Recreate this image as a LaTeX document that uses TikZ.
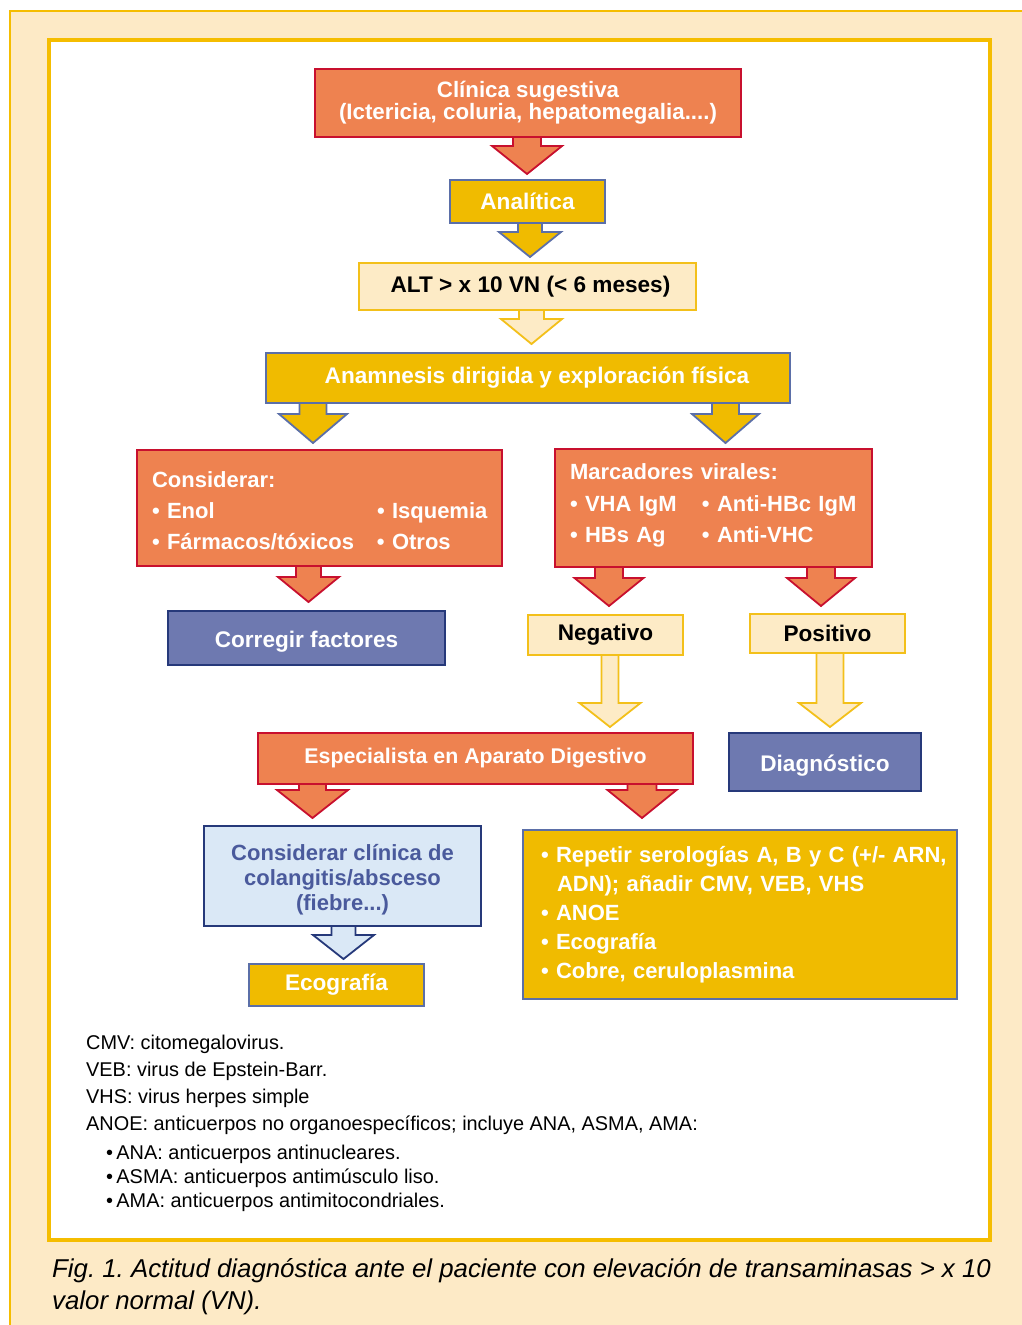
\documentclass[tikz,border=0pt]{standalone}
\usepackage{fontspec}
\setmainfont{Liberation Sans}
\usetikzlibrary{calc}
\pgfdeclarelayer{back}
\pgfdeclarelayer{bg}
\pgfsetlayers{back,bg,main}
\definecolor{corange}{HTML}{EE8250}
\definecolor{cred}{HTML}{C8102E}
\definecolor{cgold}{HTML}{F0BB00}
\definecolor{cblueb}{HTML}{5B6FA8}
\definecolor{ccream}{HTML}{FDEBC6}
\definecolor{cgoldb}{HTML}{F3C01A}
\definecolor{cslate}{HTML}{6E79B0}
\definecolor{cnavy}{HTML}{26397A}
\definecolor{clblue}{HTML}{DAE8F6}
\definecolor{ctextblue}{HTML}{4A5A9C}
\definecolor{cbeige}{HTML}{FDEAC6}
\definecolor{cframe}{HTML}{F5BD00}
\newcommand\blockarrow[7]{%
  \begin{pgfonlayer}{bg}
  \path[#7] let \p1=(#1.south) in
    ({#2pt-#3pt},\y1) -- ({#2pt-#3pt},{-#5pt}) -- ({#2pt-#4pt},{-#5pt}) --
    ({#2pt},{-#6pt}) -- ({#2pt+#4pt},{-#5pt}) -- ({#2pt+#3pt},{-#5pt}) -- ({#2pt+#3pt},\y1);
  \end{pgfonlayer}}
\tikzset{
  box/.style={inner sep=0pt, line width=1.8pt, align=center,
    font=\bfseries\fontsize{22.6}{26}\selectfont},
  orangebox/.style={box, fill=corange, draw=cred, text=white},
  goldbox/.style={box, fill=cgold, draw=cblueb, text=white},
  creambox/.style={box, fill=ccream, draw=cgoldb, text=black},
  slatebox/.style={box, fill=cslate, draw=cnavy, text=white},
  lbluebox/.style={box, fill=clblue, draw=cnavy, text=ctextblue},
  orangearrow/.style={fill=corange, draw=cred, line width=1.8pt, line join=miter},
  goldarrow/.style={fill=cgold, draw=cblueb, line width=1.8pt, line join=miter},
  creamarrow/.style={fill=ccream, draw=cgoldb, line width=1.8pt, line join=miter},
  lbluearrow/.style={fill=clblue, draw=cnavy, line width=1.8pt, line join=miter},
  legend/.style={inner sep=0pt, anchor=north west, align=left, text=black,
    font=\fontsize{19.9}{27}\selectfont},
  caption/.style={inner sep=0pt, anchor=north west, align=left, text=black,
    font=\itshape\fontsize{25.8}{32}\selectfont}
}
\begin{document}
\frenchspacing
\begin{tikzpicture}[x=1pt,y=-1pt]
\useasboundingbox (0,0) rectangle (1021,1325);
\begin{pgfonlayer}{back}
  \fill[cbeige] (10,11) rectangle (1030,1340);
  \draw[cframe, line width=2.5pt] (10,1340) -- (10,11) -- (1030,11);
  \draw[cframe, line width=4pt, fill=white] (49,40) rectangle (990,1239.5);
\end{pgfonlayer}

% nodes
\node[orangebox, minimum width=426pt, minimum height=68pt, font=\bfseries\fontsize{22.3}{22}\selectfont]
  (clin) at (528,103) {Clínica sugestiva\\(Ictericia, coluria, hepatomegalia....)};
\node[goldbox, minimum width=155pt, minimum height=43pt] (anal) at (527.5,201.5) {Analítica};
\node[creambox, minimum width=337pt, minimum height=47pt] (alt) at (527.5,286.5) {\hspace*{6pt}ALT > x 10 VN (< 6 meses)};
\node[goldbox, minimum width=524pt, minimum height=50pt] (anam) at (528,378) {\hspace*{18pt}Anamnesis dirigida y exploración física};
\node[orangebox, minimum height=116pt, text width=335pt, inner xsep=15pt, align=left,
  font=\bfseries\fontsize{22}{31}\selectfont] (cons) at (319.5,508)
  {\rule{0pt}{22pt}Considerar:\\\mbox{\makebox[225pt][l]{• Enol}• Isquemia}\\\mbox{\makebox[225pt][l]{• Fármacos/tóxicos}• Otros}};
\node[slatebox, minimum width=277pt, minimum height=54pt] (corr) at (306.5,638) {\raisebox{0pt}[18pt][0pt]{Corregir factores}};
\node[orangebox, minimum height=118pt, text width=287pt, inner xsep=15pt, align=left,
  font=\bfseries\fontsize{22}{31.5}\selectfont] (marc) at (713.5,508)
  {Marcadores virales:\\\mbox{\makebox[132pt][l]{• VHA IgM}• Anti-HBc IgM}\\\mbox{\makebox[132pt][l]{• HBs Ag}• Anti-VHC}\\[-22pt]\mbox{}};
\node[creambox, minimum width=155pt, minimum height=40pt] (neg) at (605.5,635) {Negativo};
\node[creambox, minimum width=155pt, minimum height=39pt] (pos) at (827.5,633.5) {Positivo};
\node[orangebox, minimum width=435pt, minimum height=51pt, font=\bfseries\fontsize{21.3}{26}\selectfont]
  (esp) at (475.5,758.5) {Especialista en Aparato Digestivo};
\node[slatebox, minimum width=192pt, minimum height=58pt] (diag) at (825,762) {\raisebox{0pt}[18pt][0pt]{Diagnóstico}};
\node[lbluebox, minimum width=277pt, minimum height=100pt, font=\bfseries\fontsize{22}{25}\selectfont]
  (ccl) at (342.5,876) {\rule{0pt}{23pt}Considerar clínica de\\colangitis/absceso\\(fiebre...)};
\node[goldbox, minimum width=175pt, minimum height=42pt] (eco) at (336.5,985) {Ecografía};
\node[goldbox, minimum height=169pt, text width=398pt, inner xsep=18pt, align=left,
  font=\bfseries\fontsize{22}{29}\selectfont] (rep) at (740,914.5)
  {\mbox{• Repetir serologías A, B y C (+/- ARN,}\\\mbox{\hspace*{16pt}ADN); añadir CMV, VEB, VHS}\\• ANOE\\• Ecografía\\• Cobre, ceruloplasmina};

% block arrows
\blockarrow{clin}{527}{14}{35}{146}{174}{orangearrow}
\blockarrow{anal}{530}{12}{31}{232}{257}{goldarrow}
\blockarrow{alt}{531.5}{12.5}{30.5}{319}{344}{creamarrow}
\blockarrow{anam}{313}{13.5}{34}{414}{443}{goldarrow}
\blockarrow{anam}{725.5}{13.5}{33.5}{414}{443}{goldarrow}
\blockarrow{cons}{308.5}{12.5}{30.5}{577}{602}{orangearrow}
\blockarrow{marc}{609}{14}{34.5}{578}{606}{orangearrow}
\blockarrow{marc}{821}{14}{34}{578}{606}{orangearrow}
\blockarrow{neg}{610}{8.5}{30.5}{703}{727}{creamarrow}
\blockarrow{pos}{830}{13.5}{31}{703}{727}{creamarrow}
\blockarrow{esp}{312.5}{13.5}{35.5}{790}{818}{orangearrow}
\blockarrow{esp}{642}{14.5}{34.5}{790}{818}{orangearrow}
\blockarrow{ccl}{343.5}{12}{30.5}{935}{959}{lbluearrow}

% legend
\node[legend] (leg) at (86,1035)
  {CMV: citomegalovirus.\\VEB: virus de Epstein-Barr.\\VHS: virus herpes simple\\
   ANOE: anticuerpos no organoespecíficos; incluye ANA, ASMA, AMA:\\[2pt]
   \hspace*{20pt}•\,ANA: anticuerpos antinucleares.\\[-3pt]
   \hspace*{20pt}•\,ASMA: anticuerpos antimúsculo liso.\\[-3pt]
   \hspace*{20pt}•\,AMA: anticuerpos antimitocondriales.};

% caption
\node[caption] (cap) at (52,1258)
  {Fig. 1. Actitud diagnóstica ante el paciente con elevación de transaminasas > x 10\\valor normal (VN).};
\end{tikzpicture}
\end{document}
